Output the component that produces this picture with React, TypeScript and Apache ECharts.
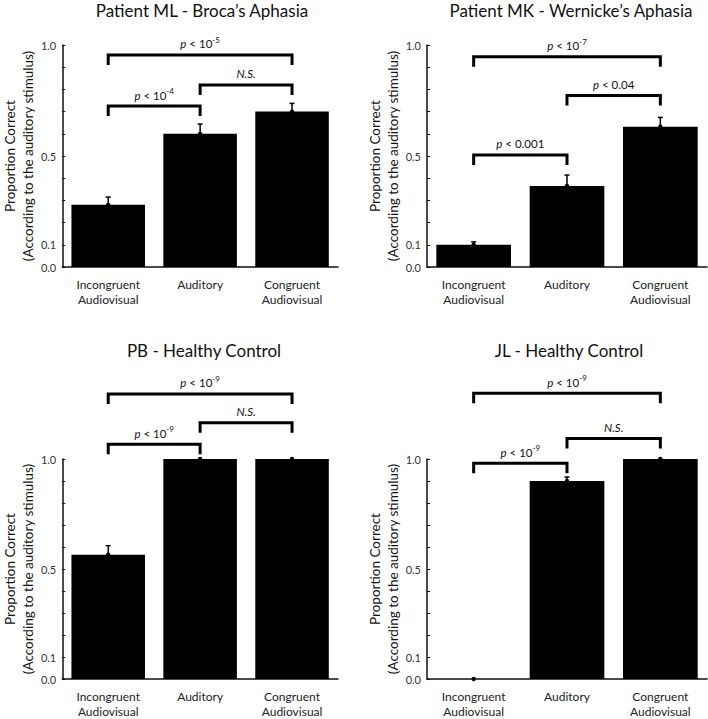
import React, { useEffect, useRef } from "react";
import * as echarts from "echarts";

const CATEGORIES = ["Incongruent\nAudiovisual", "Auditory", "Congruent\nAudiovisual"];
const PANEL_TITLES = [
  "Patient ML - Broca\u2019s Aphasia",
  "Patient MK - Wernicke\u2019s Aphasia",
  "PB - Healthy Control",
  "JL - Healthy Control",
];
const Y_NAME = "Proportion Correct\n(According to the auditory stimulus)";
const Y_LABELED_TICKS = [0, 0.1, 0.5, 1.0];

const ML_VALUES = [0.28, 0.6, 0.7];
const ML_ERR_UPPER = [0.315, 0.644, 0.737];
const MK_VALUES = [0.1, 0.365, 0.632];
const MK_ERR_UPPER = [0.113, 0.414, 0.674];
const PB_VALUES = [0.565, 1.0, 1.0];
const PB_ERR_UPPER = [0.606, 1.0, 1.0];
const JL_VALUES = [0, 0.9, 1.0];
const JL_ERR_UPPER = [0, 0.918, 1.0];

// [fromCategory, toCategory, level]
const ML_BRACKETS = [[0, 2, 0.955], [1, 2, 0.82], [0, 1, 0.725]];
const ML_BRACKET_LABELS = ["{i|p} < 10{s|-5}", "{i|N.S.}", "{i|p} < 10{s|-4}"];
const MK_BRACKETS = [[0, 2, 0.947], [1, 2, 0.772], [0, 1, 0.505]];
const MK_BRACKET_LABELS = ["{i|p} < 10{s|-7}", "{i|p} < 0.04", "{i|p} < 0.001"];
const PB_BRACKETS = [[0, 2, 1.296], [1, 2, 1.165], [0, 1, 1.067]];
const PB_BRACKET_LABELS = ["{i|p} < 10{s|-9}", "{i|N.S.}", "{i|p} < 10{s|-9}"];
const JL_BRACKETS = [[0, 2, 1.299], [1, 2, 1.093], [0, 1, 0.981]];
const JL_BRACKET_LABELS = ["{i|p} < 10{s|-9}", "{i|N.S.}", "{i|p} < 10{s|-9}"];

const FONT = "Lato";

const PANELS = [
  { values: ML_VALUES, upper: ML_ERR_UPPER, brackets: ML_BRACKETS, labels: ML_BRACKET_LABELS },
  { values: MK_VALUES, upper: MK_ERR_UPPER, brackets: MK_BRACKETS, labels: MK_BRACKET_LABELS },
  { values: PB_VALUES, upper: PB_ERR_UPPER, brackets: PB_BRACKETS, labels: PB_BRACKET_LABELS },
  { values: JL_VALUES, upper: JL_ERR_UPPER, brackets: JL_BRACKETS, labels: JL_BRACKET_LABELS },
];

const GRIDS = [
  { left: 61, top: 45, width: 277, height: 222 },
  { left: 427, top: 45, width: 280, height: 222 },
  { left: 61, top: 459, width: 277, height: 223 },
  { left: 427, top: 459, width: 280, height: 223 },
];
const TITLE_POS = [
  [202, 10],
  [571, 10],
  [204, 350],
  [569, 350],
];

function buildOption() {
  const xAxis = GRIDS.map((_, i) => ({
    type: "category",
    gridIndex: i,
    data: CATEGORIES,
    axisLine: { show: true, lineStyle: { color: "#111", width: 1.5 } },
    axisTick: { show: false },
    axisLabel: {
      interval: 0,
      margin: 10,
      fontFamily: FONT,
      fontSize: 12,
      lineHeight: 15,
      color: "#222",
    },
  }));
  const yAxis = GRIDS.map((_, i) => ({
    type: "value",
    gridIndex: i,
    min: 0,
    max: 1,
    interval: 0.1,
    name: Y_NAME,
    nameLocation: "middle",
    nameRotate: 90,
    nameGap: 25,
    nameTextStyle: { fontFamily: FONT, fontSize: 13.5, lineHeight: 18, color: "#111" },
    splitLine: { show: false },
    axisLine: { show: true, lineStyle: { color: "#111", width: 1.5 } },
    axisTick: { show: true, inside: true, length: 3, lineStyle: { color: "#111", width: 1 } },
    axisLabel: {
      margin: 6,
      fontFamily: FONT,
      fontSize: 11,
      color: "#333",
      formatter: (v: number) =>
        Y_LABELED_TICKS.some((t) => Math.abs(t - v) < 1e-6) ? v.toFixed(1) : "",
    },
  }));

  const series: any[] = [];
  PANELS.forEach((p, i) => {
    series.push({
      type: "bar",
      xAxisIndex: i,
      yAxisIndex: i,
      data: p.values,
      barWidth: "80%",
      itemStyle: { color: "#000" },
      z: 2,
    });
    series.push({
      type: "custom",
      xAxisIndex: i,
      yAxisIndex: i,
      clip: false,
      z: 5,
      data: p.values.map((v, k) => [k, v, p.upper[k]]),
      renderItem: (params: any, api: any) => {
        const base = api.coord([api.value(0), api.value(1)]);
        const top = api.coord([api.value(0), api.value(2)]);
        const children: any[] = [];
        if (top[1] < base[1] - 0.5) {
          children.push({
            type: "line",
            shape: { x1: base[0], y1: base[1], x2: top[0], y2: top[1] },
            style: { stroke: "#000", lineWidth: 1.5 },
          });
          children.push({
            type: "line",
            shape: { x1: top[0] - 2.5, y1: top[1], x2: top[0] + 2.5, y2: top[1] },
            style: { stroke: "#000", lineWidth: 1.5 },
          });
        }
        children.push({
          type: "circle",
          shape: { cx: base[0], cy: base[1], r: 2.2 },
          style: { fill: "#000" },
        });
        return { type: "group", children };
      },
    });
    series.push({
      type: "custom",
      xAxisIndex: i,
      yAxisIndex: i,
      clip: false,
      z: 6,
      data: p.brackets,
      renderItem: (params: any, api: any) => {
        const a = api.coord([api.value(0), api.value(2)]);
        const b = api.coord([api.value(1), api.value(2)]);
        const label = p.labels[params.dataIndex];
        return {
          type: "group",
          children: [
            {
              type: "polyline",
              shape: {
                points: [
                  [a[0], a[1] + 10],
                  [a[0], a[1]],
                  [b[0], b[1]],
                  [b[0], b[1] + 10],
                ],
              },
              style: { stroke: "#000", lineWidth: 3, fill: null, lineJoin: "miter" },
            },
            {
              type: "text",
              x: (a[0] + b[0]) / 2,
              y: a[1] - 3,
              style: {
                text: label,
                align: "center",
                verticalAlign: "bottom",
                fontFamily: FONT,
                fontSize: 11.5,
                fill: "#111",
                rich: {
                  i: { fontFamily: FONT, fontSize: 11.5, fontStyle: "italic", lineHeight: 16, fill: "#111" },
                  s: { fontFamily: FONT, fontSize: 8, lineHeight: 8, verticalAlign: "top", fill: "#111" },
                },
              },
            },
          ],
        };
      },
    });
  });

  const graphic = PANEL_TITLES.map((t, i) => ({
    type: "text",
    x: TITLE_POS[i][0],
    y: TITLE_POS[i][1],
    style: {
      text: t,
      align: "center",
      verticalAlign: "middle",
      fontFamily: FONT,
      fontSize: 17,
      fill: "#111",
    },
  }));

  return {
    animation: false,
    backgroundColor: "#fff",
    grid: GRIDS.map((g) => ({ ...g, containLabel: false })),
    xAxis,
    yAxis,
    series,
    graphic,
  };
}

export default function App() {
  const ref = useRef<HTMLDivElement>(null);
  useEffect(() => {
    if (!ref.current) return;
    const chart = echarts.init(ref.current, undefined, { renderer: "svg" });
    chart.setOption(buildOption() as any);
    return () => chart.dispose();
  }, []);
  return (
    <div
      ref={ref}
      style={{ position: "absolute", left: 0, top: 0, width: 708, height: 719 }}
    />
  );
}
